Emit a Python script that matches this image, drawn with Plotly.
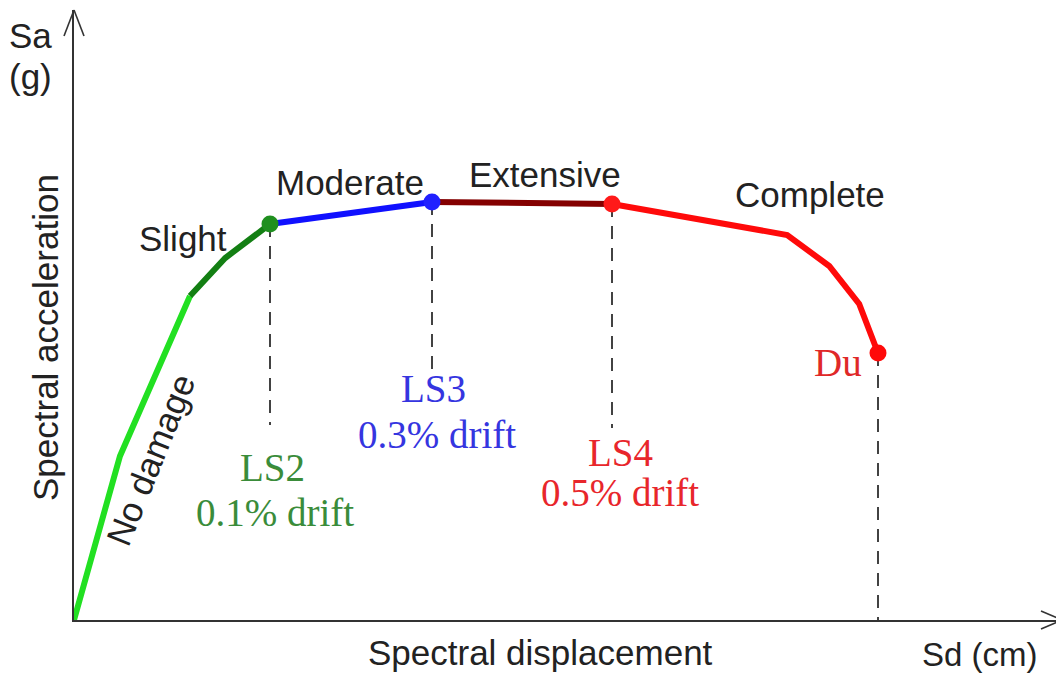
import plotly.graph_objects as go

# ---- data (Sd in cm, Sa in g; schematic capacity curve) ----
seg_nodamage_sd = [0.0, 1.15, 2.9]
seg_nodamage_sa = [0.0, 0.41, 0.81]
seg_slight_sd = [2.9, 3.78, 4.9]
seg_slight_sa = [0.81, 0.905, 0.99]
seg_moderate_sd = [4.9, 8.95]
seg_moderate_sa = [0.99, 1.045]
seg_extensive_sd = [8.95, 13.45]
seg_extensive_sa = [1.045, 1.04]
seg_complete_sd = [13.45, 17.83, 18.88, 19.63, 20.1]
seg_complete_sa = [1.04, 0.9625, 0.885, 0.79, 0.6675]

ls_names = ["LS2", "LS3", "LS4", "Du"]
ls_sd = [4.9, 8.95, 13.45, 20.1]
ls_sa = [0.99, 1.045, 1.04, 0.6675]
ls_drift = ["0.1% drift", "0.3% drift", "0.5% drift", ""]
dash_bottom = [0.4875, 0.62, 0.48, 0.0]

state_names = ["Slight", "Moderate", "Extensive", "Complete"]

X_MAX = 24.7
Y_MAX = 1.525

SANS = "Liberation Sans, Arial, sans-serif"
SERIF = "Liberation Serif, Times New Roman, serif"
SANS_SIZE = 35
SERIF_SIZE = 39

fig = go.Figure()

# dashed drop lines
for sd, sa, yb in zip(ls_sd, ls_sa, dash_bottom):
    fig.add_trace(go.Scatter(x=[sd, sd], y=[sa, yb], mode="lines",
                             line=dict(color="#222222", width=1.7, dash="13px,9px"),
                             hoverinfo="skip", showlegend=False))

segments = [
    (seg_nodamage_sd, seg_nodamage_sa, "#22e022"),
    (seg_slight_sd, seg_slight_sa, "#137f13"),
    (seg_moderate_sd, seg_moderate_sa, "#1010ff"),
    (seg_extensive_sd, seg_extensive_sa, "#840000"),
    (seg_complete_sd, seg_complete_sa, "#ff0a0a"),
]
for xs, ys, c in segments:
    fig.add_trace(go.Scatter(x=xs, y=ys, mode="lines",
                             line=dict(color=c, width=6),
                             hoverinfo="skip", showlegend=False))

marker_colors = ["#1f8f1f", "#2020ff", "#ff1a1a", "#ff0a0a"]
fig.add_trace(go.Scatter(x=ls_sd, y=ls_sa, mode="markers",
                         marker=dict(color=marker_colors, size=17),
                         hoverinfo="skip", showlegend=False))

ann = []


def label(x, y, text, family, size, color, xref="x", yref="y", angle=0):
    return dict(x=x, y=y, xref=xref, yref=yref, text=text, showarrow=False,
                xanchor="center", yanchor="middle", textangle=angle,
                font=dict(family=family, size=size, color=color))


# damage state labels
state_pos = [(2.725, 0.955), (6.9, 1.095), (11.775, 1.115), (18.4, 1.065)]
for name, (x, y) in zip(state_names, state_pos):
    ann.append(label(x, y, name, SANS, SANS_SIZE, "#222222"))
ann.append(label(1.9, 0.40, "No damage", SANS, SANS_SIZE, "#222222", angle=-68))

# limit state labels
ls_colors = ["#3a8c3a", "#3535e0", "#e8262b", "#e02828"]
ls_label_pos = [(4.95, 0.3825, 5.025, 0.27), (8.975, 0.58, 9.075, 0.465),
                (13.65, 0.42, 13.65, 0.32), (19.1, 0.645, None, None)]
for name, drift, c, (x1, y1, x2, y2) in zip(ls_names, ls_drift, ls_colors, ls_label_pos):
    ann.append(label(x1, y1, name, SERIF, SERIF_SIZE, c))
    if drift:
        ann.append(label(x2, y2, drift, SERIF, SERIF_SIZE, c))


# axis labels (paper coords; plot area is 988 x 610 px starting at page (74,10))
def px(xp):
    return (xp - 74) / 988.0


def py(yp):
    return (620 - yp) / 610.0


ann.append(label(px(540), py(652), "Spectral displacement", SANS, SANS_SIZE, "#222222", "paper", "paper"))
ann.append(label(px(980), py(654), "Sd (cm)", SANS, 33, "#222222", "paper", "paper"))
ann.append(label(px(45), py(338), "Spectral acceleration", SANS, SANS_SIZE, "#222222", "paper", "paper", angle=-90))
ann.append(label(px(30), py(35), "Sa", SANS, SANS_SIZE, "#222222", "paper", "paper"))
ann.append(label(px(30), py(77), "(g)", SANS, SANS_SIZE, "#222222", "paper", "paper"))

# arrow heads
ax_line = dict(color="#333333", width=1.6)
shapes = [
    dict(type="line", xref="paper", yref="paper", x0=px(74), y0=py(10), x1=px(64), y1=py(36), line=ax_line),
    dict(type="line", xref="paper", yref="paper", x0=px(74), y0=py(10), x1=px(84), y1=py(36), line=ax_line),
    dict(type="line", xref="paper", yref="paper", x0=px(1062), y0=py(620), x1=px(1041), y1=py(611), line=ax_line),
    dict(type="line", xref="paper", yref="paper", x0=px(1062), y0=py(620), x1=px(1041), y1=py(629), line=ax_line),
]

# page body has an 8px margin, so the figure is sized/offset to compensate
fig.update_layout(
    width=1056, height=669,
    margin=dict(l=66, r=2, t=2, b=57),
    paper_bgcolor="white", plot_bgcolor="white",
    xaxis=dict(range=[0, X_MAX], showgrid=False, zeroline=False, showticklabels=False,
               ticks="", showline=True, linecolor="#333333", linewidth=1.8),
    yaxis=dict(range=[0, Y_MAX], showgrid=False, zeroline=False, showticklabels=False,
               ticks="", showline=True, linecolor="#333333", linewidth=1.8),
    annotations=ann, shapes=shapes, showlegend=False,
)

fig.write_html("out.html")
